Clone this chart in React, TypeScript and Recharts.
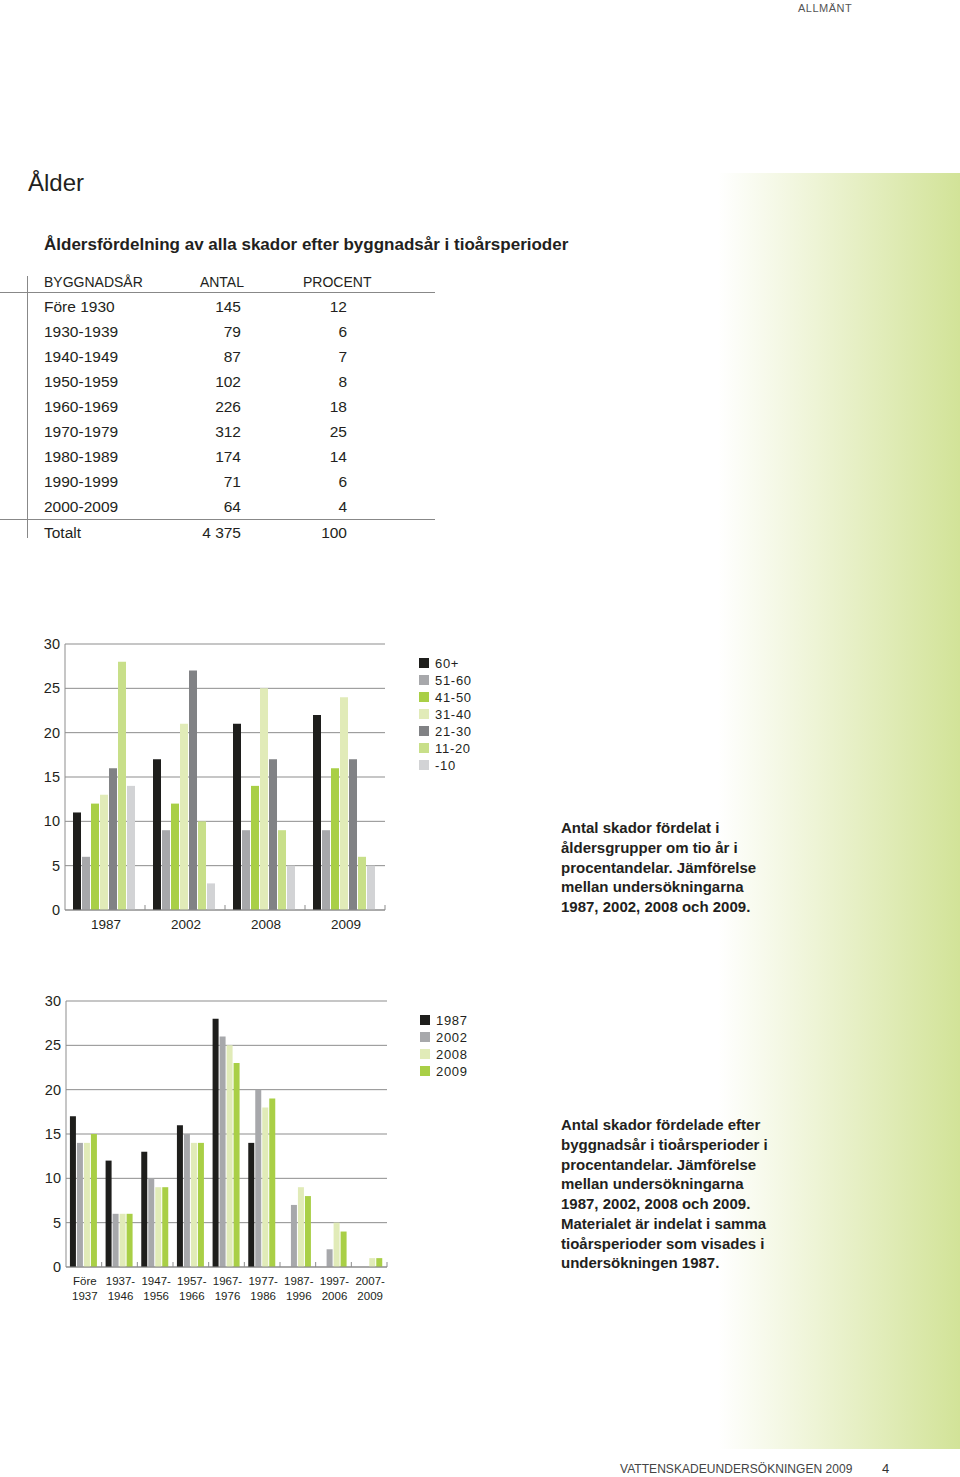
import * as React from 'react';
import { BarChart, Bar, XAxis, YAxis, CartesianGrid, Legend } from 'recharts';

// table: byggnadsår / antal / procent
const buildYears = ['Före 1930', '1930-1939', '1940-1949', '1950-1959', '1960-1969', '1970-1979', '1980-1989', '1990-1999', '2000-2009'];
const buildCounts = ['145', '79', '87', '102', '226', '312', '174', '71', '64'];
const buildPercent = ['12', '6', '7', '8', '18', '25', '14', '6', '4'];

// chart 1: age groups per survey
const surveys = ['1987', '2002', '2008', '2009'];
const ageGroups = ['60+', '51-60', '41-50', '31-40', '21-30', '11-20', '-10'];
const age60plus = [11, 17, 21, 22];
const age51_60 = [6, 9, 9, 9];
const age41_50 = [12, 12, 14, 16];
const age31_40 = [13, 21, 25, 24];
const age21_30 = [16, 27, 17, 17];
const age11_20 = [28, 10, 9, 6];
const ageUnder10 = [14, 3, 5, 5];
const ageColors = ['#1e1e1c', '#a7a8ab', '#a9cf46', '#e1ebb8', '#818285', '#c8df89', '#d2d3d5'];

// chart 2: building period per survey
const periodTop = ['Före', '1937-', '1947-', '1957-', '1967-', '1977-', '1987-', '1997-', '2007-'];
const periodBottom = ['1937', '1946', '1956', '1966', '1976', '1986', '1996', '2006', '2009'];
const s1987 = [17, 12, 13, 16, 28, 14, 0, 0, 0];
const s2002 = [14, 6, 10, 15, 26, 20, 7, 2, 0];
const s2008 = [14, 6, 9, 14, 25, 18, 9, 5, 1];
const s2009 = [15, 6, 9, 14, 23, 19, 8, 4, 1];
const surveyColors = ['#1e1e1c', '#a7a8ab', '#e1ebb8', '#a9cf46'];

const yTicks = [0, 5, 10, 15, 20, 25, 30];

const ageSeries = [age60plus, age51_60, age41_50, age31_40, age21_30, age11_20, ageUnder10];
const ageData = surveys.map((s, i) => {
    const row: any = { name: s };
    ageGroups.forEach((g, j) => { row[g] = ageSeries[j][i]; });
    return row;
});

const periodData = periodTop.map((p, i) => ({
    name: p + ' ' + periodBottom[i],
    top: p,
    bottom: periodBottom[i],
    '1987': s1987[i],
    '2002': s2002[i],
    '2008': s2008[i],
    '2009': s2009[i],
}));

const txt = '#231f20';
const gridCol = '#8d8d8d';
const font = '"Liberation Sans", Arial, Helvetica, sans-serif';

const SurveyTick = (props: any) => {
    const { x, y, payload } = props;
    const half = 40;
    return (
        <g>
            <line x1={x + half} x2={x + half} y1={y - 5} y2={y} stroke={gridCol} />
            <text x={x + 1} y={y + 19} textAnchor='middle' fill={txt} fontSize={13.5}>{payload.value}</text>
        </g>
    );
};

const PeriodTick = (props: any) => {
    const { x, y, index } = props;
    const half = 321 / 9 / 2;
    const d = periodData[index];
    return (
        <g>
            <line x1={x + half} x2={x + half} y1={y - 5} y2={y} stroke={gridCol} />
            <text x={x + 1} y={y + 18} textAnchor='middle' fill={txt} fontSize={11.5}>{d ? d.top : ''}</text>
            <text x={x + 1} y={y + 33} textAnchor='middle' fill={txt} fontSize={11.5}>{d ? d.bottom : ''}</text>
        </g>
    );
};

// keep legend in series order (recharts sorts by value otherwise)
const makeLegend = (order: string[]) => (props: any) => {
    const items = [...(props.payload || [])].sort((a: any, b: any) => order.indexOf(a.value) - order.indexOf(b.value));
    return (
        <div>
            {items.map((p: any, i: number) => (
                <div key={i} style={{ display: 'flex', alignItems: 'center', height: 17, fontSize: 13, letterSpacing: 0.7, color: txt }}>
                    <span style={{ display: 'inline-block', width: 10, height: 10, background: p.color, marginRight: 6 }} />
                    {p.value}
                </div>
            ))}
        </div>
    );
};

const abs = (left: number, top: number, extra: any = {}) => ({ position: 'absolute' as const, left, top, whiteSpace: 'nowrap' as const, ...extra });

export default function App() {
    const rowY = (i: number) => 307 + i * 25;
    return (
        <div style={{ position: 'absolute', left: 0, top: 0, width: 960, height: 1477, background: '#fff', fontFamily: font, color: txt, overflow: 'hidden' }}>
            {/* green fade at right */}
            <div style={{ position: 'absolute', left: 718, top: 173, width: 242, height: 1276, background: 'linear-gradient(to right, #ffffff 0%, #eef4d6 40%, #d2e398 100%)' }} />

            <div style={abs(798, 1, { fontSize: 11, letterSpacing: 0.5, color: '#555', lineHeight: '14px' })}>ALLMÄNT</div>
            <div style={abs(28, 168, { fontSize: 24, lineHeight: '30px' })}>Ålder</div>
            <div style={abs(44, 235, { fontSize: 17, fontWeight: 'bold', lineHeight: '20px' })}>Åldersfördelning av alla skador efter byggnadsår i tioårsperioder</div>

            {/* table */}
            <div style={{ position: 'absolute', left: 27, top: 276, width: 1, height: 262, background: '#888' }} />
            <div style={{ position: 'absolute', left: 0, top: 292, width: 435, height: 1, background: '#888' }} />
            <div style={{ position: 'absolute', left: 0, top: 519, width: 435, height: 1, background: '#888' }} />
            <div style={abs(44, 274, { fontSize: 14, lineHeight: '16px' })}>BYGGNADSÅR</div>
            <div style={abs(150, 274, { fontSize: 14, lineHeight: '16px', width: 94, textAlign: 'right' })}>ANTAL</div>
            <div style={abs(303, 274, { fontSize: 14, lineHeight: '16px' })}>PROCENT</div>
            {buildYears.map((b, i) => (
                <React.Fragment key={b}>
                    <div style={abs(44, rowY(i) - 9, { fontSize: 15.5, lineHeight: '18px' })}>{b}</div>
                    <div style={abs(160, rowY(i) - 9, { fontSize: 15.5, lineHeight: '18px', width: 81, textAlign: 'right' })}>{buildCounts[i]}</div>
                    <div style={abs(280, rowY(i) - 9, { fontSize: 15.5, lineHeight: '18px', width: 67, textAlign: 'right' })}>{buildPercent[i]}</div>
                </React.Fragment>
            ))}
            <div style={abs(44, 524, { fontSize: 15.5, lineHeight: '18px' })}>Totalt</div>
            <div style={abs(160, 524, { fontSize: 15.5, lineHeight: '18px', width: 81, textAlign: 'right' })}>4 375</div>
            <div style={abs(280, 524, { fontSize: 15.5, lineHeight: '18px', width: 67, textAlign: 'right' })}>100</div>

            {/* chart 1 */}
            <div style={{ position: 'absolute', left: 0, top: 630 }}>
                <BarChart width={500} height={310} data={ageData} margin={{ top: 14, right: 115, bottom: 0, left: 0 }}
                    barCategoryGap='10%' barGap={1}>
                    <CartesianGrid vertical={false} stroke={gridCol} />
                    <XAxis dataKey='name' height={30} tickSize={0} tickMargin={0} axisLine={{ stroke: gridCol }} tick={<SurveyTick />} interval={0} />
                    <YAxis width={65} domain={[0, 30]} ticks={yTicks} tickSize={0} tickMargin={5} axisLine={{ stroke: gridCol }}
                        tick={{ fill: txt, fontSize: 14.5 }} />
                    <Legend layout='vertical' align='center' verticalAlign='middle' content={makeLegend(ageGroups)}
                        wrapperStyle={{ left: 419, top: 24.5, width: 80 }} />
                    {ageGroups.map((g, i) => (
                        <Bar key={g} dataKey={g} name={g} fill={ageColors[i]} isAnimationActive={false} />
                    ))}
                </BarChart>
            </div>
            <div style={abs(561, 818, { fontSize: 15, fontWeight: 'bold', lineHeight: '19.75px', whiteSpace: 'pre' })}>
                {'Antal skador fördelat i\nåldersgrupper om tio år i\nprocentandelar. Jämförelse\nmellan undersökningarna\n1987, 2002, 2008 och 2009.'}
            </div>

            {/* chart 2 */}
            <div style={{ position: 'absolute', left: 0, top: 990 }}>
                <BarChart width={500} height={320} data={periodData} margin={{ top: 11, right: 113, bottom: 0, left: 0 }}
                    barCategoryGap='11%' barGap={1}>
                    <CartesianGrid vertical={false} stroke={gridCol} />
                    <XAxis dataKey='name' height={43} tickSize={0} tickMargin={0} axisLine={{ stroke: gridCol }} tick={<PeriodTick />} interval={0} />
                    <YAxis width={66} domain={[0, 30]} ticks={yTicks} tickSize={0} tickMargin={5} axisLine={{ stroke: gridCol }}
                        tick={{ fill: txt, fontSize: 14.5 }} />
                    <Legend layout='vertical' align='center' verticalAlign='middle' content={makeLegend(surveys)}
                        wrapperStyle={{ left: 420, top: 21.5, width: 80 }} />
                    {surveys.map((s, i) => (
                        <Bar key={s} dataKey={s} name={s} fill={surveyColors[i]} isAnimationActive={false} />
                    ))}
                </BarChart>
            </div>
            <div style={abs(561, 1115, { fontSize: 15, fontWeight: 'bold', lineHeight: '19.75px', whiteSpace: 'pre' })}>
                {'Antal skador fördelade efter\nbyggnadsår i tioårsperioder i\nprocentandelar. Jämförelse\nmellan undersökningarna\n1987, 2002, 2008 och 2009.\nMaterialet är indelat i samma\ntioårsperioder som visades i\nundersökningen 1987.'}
            </div>

            <div style={abs(620, 1461, { fontSize: 12, letterSpacing: 0.05, color: '#444', lineHeight: '16px' })}>VATTENSKADEUNDERSÖKNINGEN 2009</div>
            <div style={abs(882, 1461, { fontSize: 13, color: '#333', lineHeight: '16px' })}>4</div>
        </div>
    );
}
